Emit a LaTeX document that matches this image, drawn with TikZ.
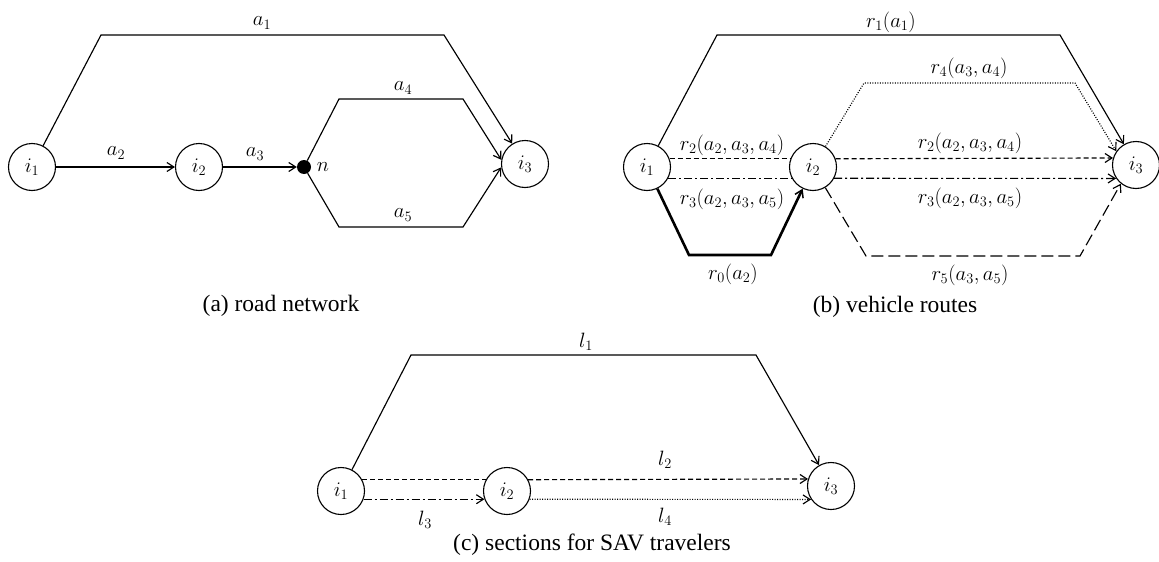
\documentclass[tikz,border=0pt]{standalone}
\usepackage{fontspec}
\setmainfont{Liberation Serif}
\usetikzlibrary{arrows.meta}
\begin{document}
\begin{tikzpicture}[x=1pt,y=-1pt,
  every node/.style={inner sep=0pt},
  city/.style={circle,draw,line width=1.1pt,minimum size=47pt,font=\fontsize{20}{24}\selectfont},
  lbl/.style={font=\fontsize{20}{24}\selectfont},
  captext/.style={font=\fontsize{23.5}{28}\selectfont},
  link/.style={line width=1.15pt,line join=miter},
  arr/.style={-{Straight Barb[length=7pt,width=9pt]}},
  dshline/.style={dash pattern=on 5pt off 3pt},
  dshdotline/.style={dash pattern=on 8pt off 3pt on 2pt off 3pt},
  dotline/.style={dash pattern=on 1pt off 1.5pt},
  ldshline/.style={dash pattern=on 12pt off 5pt},
  ]
\useasboundingbox (0,0) rectangle (1159,562);

% ---------- (a) road network ----------
\node[city] (a1) at (32,167) {$i_1$};
\node[city] (a2) at (199,167) {$i_2$};
\node[city] (a3) at (525,164) {$i_3$};
\node[circle,fill,minimum size=14pt] (n) at (304,167) {};
\node[lbl] (nl) at (323,167) {$n$};
\coordinate (ap1) at (101,35);
\coordinate (ap2) at (444,35);
\coordinate (ap3) at (339,99);
\coordinate (ap4) at (463,99);
\coordinate (ap5) at (339,227);
\coordinate (ap6) at (463,227);
\draw[link,arr] (a1) -- (ap1) -- (ap2) -- (a3);
\draw[link,arr] (a1) -- (a2);
\draw[link,arr] (a2) -- (n);
\draw[link,arr] (n) -- (ap3) -- (ap4) -- (a3.170);
\draw[link,arr] (n) -- (ap5) -- (ap6) -- (a3.188);
\node[lbl] (la1) at (262,23) {$a_1$};
\node[lbl] (la2) at (116,153) {$a_2$};
\node[lbl] (la3) at (255,154) {$a_3$};
\node[lbl] (la4) at (403,88) {$a_4$};
\node[lbl] (la5) at (403,215) {$a_5$};
\node[captext] (capa) at (281,306) {(a) road network};

% ---------- (b) vehicle routes ----------
\node[city] (b1) at (647,167) {$i_1$};
\node[city] (b2) at (813,167) {$i_2$};
\node[city] (b3) at (1136,165) {$i_3$};
\coordinate (bp1) at (717,35);
\coordinate (bp2) at (1060,35);
\coordinate (bp3) at (864,83);
\coordinate (bp4) at (1075,83);
\coordinate (bp5) at (866,256);
\coordinate (bp6) at (1080,256);
\coordinate (bp7) at (689,255);
\coordinate (bp8) at (771,255);
\draw[link,arr] (b1) -- (bp1) -- (bp2) -- (b3);
\draw[link,dshline] (b1.20) -- (b2.160);
\draw[link,dshline,arr] (b2.20) -- (b3.163);
\draw[link,dshdotline] (b1.-28) -- (b2.208);
\draw[link,dshdotline,arr] (b2.-28) -- (b3.214);
\draw[link,dotline,arr] (b2) -- (bp3) -- (bp4) -- (b3.145);
\draw[link,ldshline,arr] (b2) -- (bp5) -- (bp6) -- (b3.231);
\draw[line width=2.6pt,line join=miter,-{Straight Barb[length=7pt,width=9pt,line width=1.5pt]}] (b1) -- (bp7) -- (bp8) -- (b2);
\node[lbl] (lr1) at (891,22) {$r_1(a_1)$};
\node[lbl] (lr4) at (969,68) {$r_4(a_3,a_4)$};
\node[lbl] (lr2a) at (732,145) {$r_2(a_2,a_3,a_4)$};
\node[lbl] (lr3a) at (732,199) {$r_3(a_2,a_3,a_5)$};
\node[lbl] (lr2b) at (970,143) {$r_2(a_2,a_3,a_4)$};
\node[lbl] (lr3b) at (970,198) {$r_3(a_2,a_3,a_5)$};
\node[lbl] (lr0) at (733,274) {$r_0(a_2)$};
\node[lbl] (lr5) at (970,275) {$r_5(a_3,a_5)$};
\node[captext] (capb) at (895,307) {(b) vehicle routes};

% ---------- (c) sections for SAV travelers ----------
\node[city] (c1) at (341,491) {$i_1$};
\node[city] (c2) at (507,491) {$i_2$};
\node[city] (c3) at (831,486) {$i_3$};
\coordinate (cp1) at (411,355);
\coordinate (cp2) at (756,355);
\draw[link,arr] (c1) -- (cp1) -- (cp2) -- (c3);
\draw[link,dshline] (c1.28) -- (c2.152);
\draw[link,dshline,arr] (c2.28) -- (c3.163);
\draw[link,dshdotline,arr] (c1.-20) -- (c2.200);
\draw[link,dotline,arr] (c2.-20) -- (c3.214);
\node[lbl] (ll1) at (586,342) {$l_1$};
\node[lbl] (ll2) at (665,460) {$l_2$};
\node[lbl] (ll3) at (425,520) {$l_3$};
\node[lbl] (ll4) at (665,517) {$l_4$};
\node[captext] (capc) at (592,545) {(c) sections for SAV travelers};
\end{tikzpicture}
\end{document}
